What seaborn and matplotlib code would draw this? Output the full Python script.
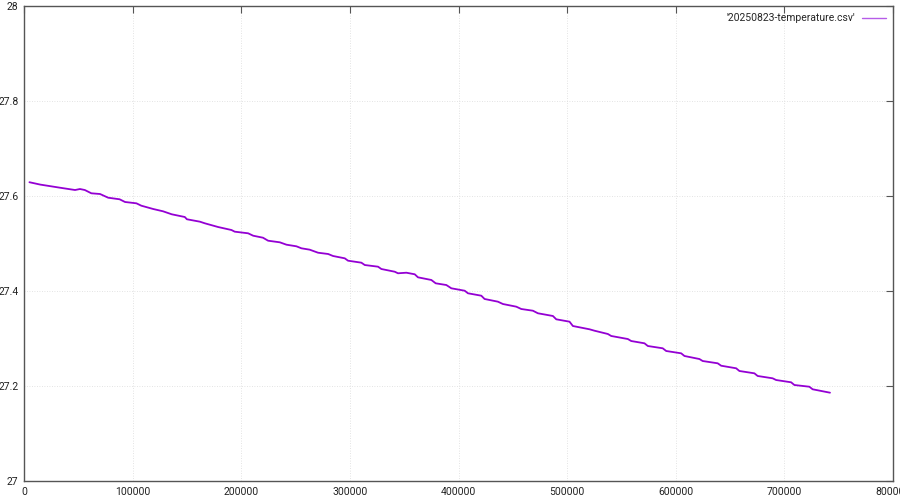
import matplotlib
matplotlib.use("Agg")
import matplotlib.pyplot as plt
import seaborn as sns
import pandas as pd

time_s = [5000, 15000, 33000, 47000, 51500, 56000, 62000, 70000, 77500, 88000,
          93000, 103500, 108000, 119000, 128000, 136000, 148000, 150000, 162000, 166500,
          178700, 191000, 194000, 206300, 211000, 220000, 224700, 235500, 241600, 250800,
          255400, 263000, 270700, 280000, 284500, 295300, 298300, 310600, 313700, 325900,
          329000, 341300, 344300, 352000, 359700, 362700, 375000, 379000, 388800, 393400,
          405700, 408700, 421000, 424000, 436300, 440900, 453200, 457800, 468500, 473100,
          486900, 490000, 502200, 505300, 520600, 525200, 537500, 540600, 555900, 559000,
          571200, 574300, 588000, 591200, 605000, 608000, 621800, 624800, 638600, 641800,
          655600, 658600, 672400, 675400, 689200, 692400, 706200, 709200, 723000, 726000,
          742000]
temperature = [27.629, 27.624, 27.6175, 27.6126, 27.6147, 27.6126, 27.6057, 27.6042, 27.5964, 27.5931,
               27.5874, 27.5846, 27.5796, 27.5726, 27.5678, 27.5615, 27.5558, 27.5510, 27.5459, 27.5425,
               27.5347, 27.5284, 27.5249, 27.5215, 27.5164, 27.5122, 27.5059, 27.5025, 27.4975, 27.4941,
               27.4899, 27.4870, 27.4806, 27.4779, 27.4737, 27.4688, 27.4638, 27.4596, 27.4547, 27.4512,
               27.4463, 27.4406, 27.4373, 27.4385, 27.4352, 27.4288, 27.4232, 27.4162, 27.4126, 27.4057,
               27.4006, 27.3952, 27.3901, 27.3832, 27.3775, 27.3726, 27.3670, 27.3621, 27.3585, 27.3531,
               27.3474, 27.3404, 27.3354, 27.3263, 27.3194, 27.3164, 27.3095, 27.3053, 27.2989, 27.2947,
               27.2899, 27.2842, 27.2794, 27.2737, 27.2688, 27.2632, 27.2568, 27.2526, 27.2478, 27.2427,
               27.2373, 27.2316, 27.2267, 27.2211, 27.2162, 27.2126, 27.2078, 27.2021, 27.1985, 27.1931,
               27.1859]
series_label = "'20250823-temperature.csv'"
x_ticks = [0, 100000, 200000, 300000, 400000, 500000, 600000, 700000, 800000]
y_ticks = [27, 27.2, 27.4, 27.6, 27.8, 28]
y_tick_labels = ["27", "27.2", "27.4", "27.6", "27.8", "28"]

sns.set_style("white")
plt.rcParams['font.family'] = ['Roboto', 'DejaVu Sans']

df = pd.DataFrame({"t": time_s, "temp": temperature})

fig = plt.figure(figsize=(9, 5), dpi=100)
ax = fig.add_axes([24/900, 19/500, (893-24)/900, (481-6)/500])
sns.lineplot(data=df, x="t", y="temp", ax=ax, color="#9400D3", lw=1.3,
             label=series_label, estimator=None, sort=False)

ax.set_xlim(0, 800000)
ax.set_ylim(27, 28)
ax.set_xticks(x_ticks)
ax.set_xticklabels([str(v) for v in x_ticks])
ax.set_yticks(y_ticks)
ax.set_yticklabels(y_tick_labels)
ax.set_xlabel("")
ax.set_ylabel("")
ax.grid(True, linestyle=(0, (1, 2)), color="#dadada", lw=0.6)
for s in ax.spines.values():
    s.set_color("#555555")
    s.set_linewidth(1.0)
ax.tick_params(direction="in", length=5, width=0.8, color="#555555",
               top=True, right=True, labelsize=7.5, labelcolor="#222222", pad=4)
leg = ax.legend(loc="upper right", frameon=False, markerfirst=False, fontsize=7.5,
                handlelength=2.3, borderaxespad=0.3, handletextpad=0.6)
for h in leg.get_lines():
    h.set_linewidth(1.0)
    h.set_color("#b65ce8")

fig.savefig("out.png", dpi=100)
